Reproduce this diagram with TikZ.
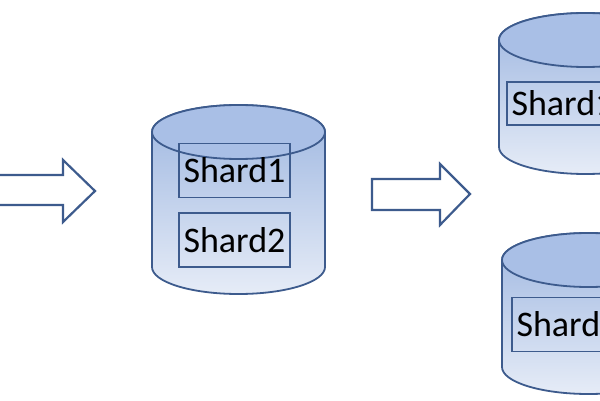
\documentclass[tikz,border=0pt]{standalone}
\usepackage{fontspec}
\setmainfont{Carlito}
\usetikzlibrary{positioning}
\definecolor{dbline}{HTML}{3D5B8D}
\definecolor{dbtop}{HTML}{A9BFE6}
\definecolor{dbbodyhi}{HTML}{9DB6E0}
\definecolor{dbbodylo}{HTML}{E6ECF7}
\tikzset{
  dbbody/.style={draw=dbline, line width=1.8pt, top color=dbbodyhi, bottom color=dbbodylo},
  dbcap/.style={draw=dbline, line width=1.8pt, fill=dbtop},
  shardbox/.style={draw=dbline, line width=1.5pt, minimum width=111pt, minimum height=54pt,
    inner sep=0pt, font=\fontsize{36}{38}\selectfont, text=black},
  blockarrow/.style={draw=dbline, line width=2.2pt, fill=white, line join=miter}
}
% cylinder: centre x, top ellipse y, bottom ellipse y
\newcommand{\dbcyl}[3]{%
  \draw[dbbody] (#1-86.5,#2) -- (#1-86.5,#3)
    arc[start angle=180, end angle=360, x radius=86.5, y radius=27]
    -- (#1+86.5,#2)
    arc[start angle=0, end angle=180, x radius=86.5, y radius=27] -- cycle;
  \draw[dbcap] (#1,#2) ellipse[x radius=86.5, y radius=27];
}
\begin{document}
\begin{tikzpicture}[x=1pt, y=1pt]
  \useasboundingbox (0,0) rectangle (600,400);
  \clip (0,0) rectangle (600,400);

  % arrows
  \draw[blockarrow] (-5,225) -- (63,225) -- (63,240) -- (95,209)
    -- (63,178) -- (63,195) -- (-5,195) -- cycle;
  \draw[blockarrow] (372,221) -- (440,221) -- (440,236) -- (470,206)
    -- (440,175) -- (440,190) -- (372,190) -- cycle;

  % source database
  \dbcyl{238.5}{268}{133}
  \node[shardbox] (src1) at (234.5,229.5) {Shard1};
  \node[shardbox, below=14pt of src1] (src2) {Shard2};

  % split databases
  \dbcyl{585.5}{360}{253}
  \node[shardbox, minimum height=43pt] (dst1) at (562.5,296.5) {Shard1};
  \dbcyl{588.5}{140}{33}
  \node[shardbox] (dst2) at (567.5,75.5) {Shard2};
\end{tikzpicture}
\end{document}
